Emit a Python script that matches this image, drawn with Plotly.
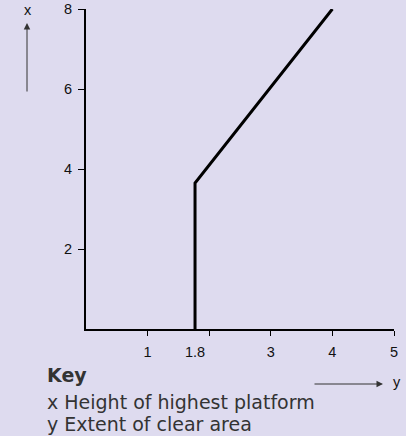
import plotly.graph_objects as go

# data
line_x = [1.77, 1.77, 4.0]
line_y = [0, 3.65, 8]
x_tickvals = [1, 2, 3, 4, 5]
x_ticktext = ["1", "", "3", "4", "5"]
extra_tick_label = "1.8"
extra_tick_pos = 1.77
y_tickvals = [2, 4, 6, 8]
key_title = "Key"
key_lines = ["x Height of highest platform", "y Extent of clear area"]

BG = "#DEDBEF"
W, H = 406, 436
ML, MR, MT, MB = 86, 12, 9, 107

fig = go.Figure()
fig.add_trace(go.Scatter(x=line_x, y=line_y, mode="lines",
                         line=dict(color="black", width=3), hoverinfo="skip"))

tickfont = dict(family="Liberation Sans, Arial", size=14.5, color="#111")
fig.update_layout(
    width=W, height=H,
    paper_bgcolor=BG, plot_bgcolor=BG,
    margin=dict(l=ML, r=MR, t=MT, b=MB, autoexpand=False),
    showlegend=False,
    xaxis=dict(range=[0, 5], showgrid=False, zeroline=False,
               showline=True, linecolor="black", linewidth=2,
               tickmode="array", tickvals=x_tickvals, ticktext=x_ticktext,
               ticks="outside", ticklen=5, tickwidth=1, tickcolor="black",
               tickfont=tickfont, ticklabelstandoff=4, automargin=False),
    yaxis=dict(range=[0, 8], showgrid=False, zeroline=False,
               showline=True, linecolor="black", linewidth=2,
               tickmode="array", tickvals=y_tickvals,
               ticks="outside", ticklen=6, tickwidth=1, tickcolor="black",
               tickfont=tickfont, ticklabelstandoff=3, automargin=False),
)


def pxp(v):
    return (v - ML) / (W - ML - MR)


def pyp(v):
    return (H - MB - v) / (H - MB - MT)


# "1.8" label under the vertical line
fig.add_annotation(x=extra_tick_pos, y=pyp(352), xref="x", yref="paper",
                   text=extra_tick_label, showarrow=False,
                   xanchor="center", yanchor="middle", font=tickfont)

# vertical axis arrow (x)
fig.add_annotation(x=pxp(27), y=pyp(23), ax=pxp(27), ay=pyp(93),
                   xref="x domain", yref="y domain", axref="x domain", ayref="y domain",
                   text="", showarrow=True, arrowhead=2, arrowsize=1.3,
                   arrowwidth=1, arrowcolor="#333")
fig.add_annotation(x=pxp(28), y=pyp(10), xref="paper", yref="paper", text="x",
                   showarrow=False, xanchor="center", yanchor="middle", font=tickfont)
# horizontal axis arrow (y)
fig.add_annotation(x=pxp(383), y=pyp(384), ax=pxp(313), ay=pyp(384),
                   xref="x domain", yref="y domain", axref="x domain", ayref="y domain",
                   text="", showarrow=True, arrowhead=2, arrowsize=1.3,
                   arrowwidth=1, arrowcolor="#333")
fig.add_annotation(x=pxp(397), y=pyp(382), xref="paper", yref="paper", text="y",
                   showarrow=False, xanchor="center", yanchor="middle", font=tickfont)

font_key = "DejaVu Sans"
fig.add_annotation(x=pxp(45), y=pyp(375), xref="paper", yref="paper",
                   text="<b>" + key_title + "</b>",
                   showarrow=False, xanchor="left", yanchor="middle",
                   font=dict(family=font_key, size=19, color="#333"))
for i, t in enumerate(key_lines):
    fig.add_annotation(x=pxp(45), y=pyp(402 + 22 * i), xref="paper", yref="paper", text=t,
                       showarrow=False, xanchor="left", yanchor="middle",
                       font=dict(family=font_key, size=19, color="#333"))

fig.write_html("out.html", config={"displayModeBar": False},
               post_script="document.body.style.margin='0';document.body.style.padding='0';")
